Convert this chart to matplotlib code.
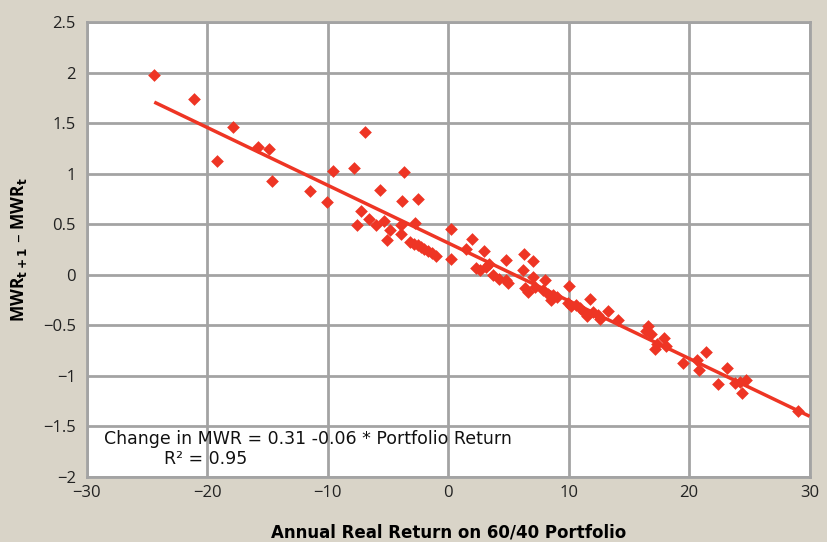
import numpy as np
import matplotlib
matplotlib.use("Agg")
import matplotlib.pyplot as plt

# annual real return on 60/40 portfolio (%) and change in MWR
ret = [-24.4, -21.1, -17.9, -19.2, -15.75, -14.9, -14.6, -11.5, -10.1, -9.55,
       -7.8, -6.9, -5.7, -3.7, -3.8, -2.5, -7.2, -6.6, -7.6, -5.3,
       -6.0, -4.85, -5.1, -3.9, -3.9, -2.75, 0.2, 0.2,
       -3.2, -2.86, -2.53, -2.28, -2.03, -1.7, -1.37, -1.04,
       1.95, 1.5, 3.0, 2.3, 2.6, 3.1, 3.4, 3.7, 4.2, 4.8, 5.0,
       4.8, 6.3, 7.0, 6.2, 7.0, 8.0, 6.35, 6.6, 7.2, 7.9, 8.3, 8.7, 9.0, 8.5,
       10.05, 9.95, 10.2, 10.6, 10.9, 11.25, 11.5, 11.75, 12.0, 12.4, 12.6,
       13.3, 14.1, 16.6, 16.4, 16.8, 17.3, 17.2, 17.9, 18.05, 19.5,
       20.65, 20.8, 21.4, 23.1, 22.4, 23.8, 24.2, 24.75, 24.4, 29.0]
dmwr = [1.98, 1.74, 1.46, 1.13, 1.27, 1.25, 0.93, 0.83, 0.72, 1.03,
        1.06, 1.41, 0.84, 1.02, 0.73, 0.75, 0.63, 0.55, 0.49, 0.53,
        0.49, 0.44, 0.34, 0.49, 0.40, 0.51, 0.45, 0.16,
        0.33, 0.31, 0.30, 0.28, 0.26, 0.24, 0.22, 0.19,
        0.35, 0.26, 0.24, 0.07, 0.05, 0.08, 0.11, 0.0, -0.04, -0.05, -0.08,
        0.15, 0.21, 0.14, 0.05, -0.02, -0.05, -0.13, -0.17, -0.12, -0.15, -0.19, -0.20, -0.22, -0.25,
        -0.11, -0.28, -0.31, -0.30, -0.33, -0.37, -0.41, -0.24, -0.37, -0.40, -0.44,
        -0.36, -0.45, -0.51, -0.56, -0.59, -0.68, -0.73, -0.62, -0.70, -0.87,
        -0.84, -0.94, -0.76, -0.92, -1.08, -1.07, -1.06, -1.04, -1.17, -1.35]

bg = "#d9d4c8"
red = "#ee3524"
grid = "#a3a3a3"

fig = plt.figure(figsize=(8.27, 5.42), dpi=100, facecolor=bg)
ax = fig.add_axes([0.105, 0.12, 0.874, 0.839])
ax.set_facecolor("white")

ax.scatter(ret, dmwr, marker="D", s=42, color=red, zorder=3, linewidths=0)

# linear trend line
k, b = np.polyfit(ret, dmwr, 1)
xs = np.array([min(ret), 30])
ax.plot(xs, k * xs + b, color=red, lw=2.5, zorder=4, solid_capstyle="butt")

ax.set_xlim(-30, 30)
ax.set_ylim(-2, 2.5)
ax.set_xticks(range(-30, 31, 10))
ax.set_yticks(np.arange(-2, 2.51, 0.5))
ax.set_yticklabels(["\u22122", "\u22121.5", "\u22121", "\u22120.5", "0", "0.5", "1", "1.5", "2", "2.5"])
ax.grid(True, color=grid, lw=2)
ax.set_axisbelow(True)
for s in ax.spines.values():
    s.set_color(grid)
    s.set_linewidth(2)
ax.tick_params(length=0, labelsize=12)
ax.tick_params(axis="x", pad=6)
ax.tick_params(axis="y", pad=8)
for lab in ax.get_xticklabels() + ax.get_yticklabels():
    lab.set_family("Open Sans")
    lab.set_color("#222222")

ax.set_xlabel("Annual Real Return on 60/40 Portfolio", fontsize=12, fontweight="bold",
              family="DejaVu Sans", labelpad=16)
ax.set_ylabel("MWR$_{\\mathbf{t+1}}$ \u2013 MWR$_{\\mathbf{t}}$", fontsize=12.5, fontweight="bold",
              family="Open Sans", labelpad=10)

ax.text(-28.6, -1.62, "Change in MWR = 0.31 -0.06 * Portfolio Return", fontsize=12.5,
        family="DejaVu Sans", va="center", color="#111111")
ax.text(-23.6, -1.82, "R\u00b2 = 0.95", fontsize=12.5,
        family="DejaVu Sans", va="center", color="#111111")

fig.savefig("out.png", dpi=100, facecolor=bg)
